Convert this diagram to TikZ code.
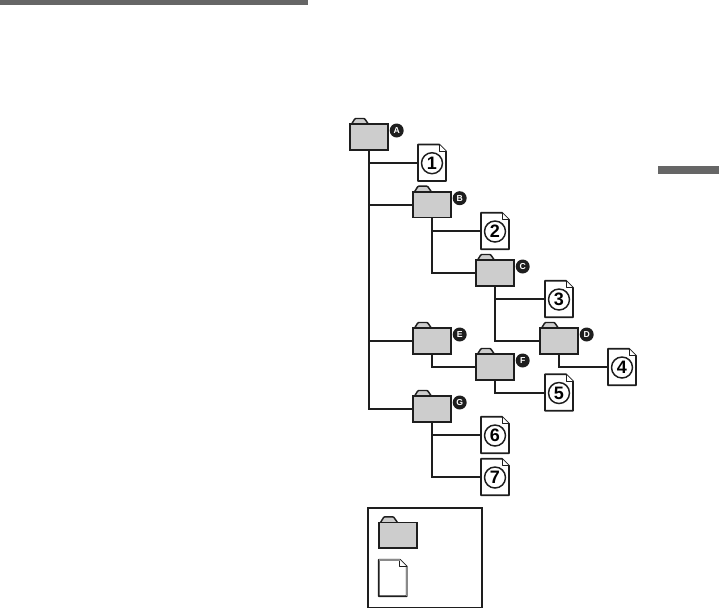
\documentclass[tikz,border=0pt]{standalone}
\usepackage{fontspec}
\setmainfont{Liberation Sans}
\definecolor{ink}{HTML}{1E1E1E}
\definecolor{folderfill}{HTML}{CDCDCD}
\definecolor{barcol}{HTML}{666666}
\definecolor{softedge}{HTML}{8A8A8A}
\newlength{\pxu}\setlength{\pxu}{0.75pt}
\tikzset{
  foldernode/.style={draw=ink,fill=folderfill,line width=1.4pt,minimum width=38\pxu,minimum height=25.5\pxu,inner sep=0pt,outer sep=0pt},
  filenode/.style={minimum width=28\pxu,minimum height=36.5\pxu,inner sep=0pt,outer sep=0pt},
  fileline/.style={draw=ink,fill=white,line width=1.3pt,line join=round},
  tabline/.style={draw=ink,fill=folderfill,line width=1.1pt,line join=round,rounded corners=0.6pt},
  badge/.style={circle,fill=ink,text=white,inner sep=0pt,minimum size=14\pxu,font=\fontsize{6.5}{7}\selectfont\bfseries},
  numring/.style={circle,draw=ink,line width=1.1pt,fill=white,inner sep=0pt,minimum size=21\pxu,font=\fontsize{13.5}{14}\selectfont\bfseries},
  wire/.style={draw=ink,line width=1.5pt},
  thinwire/.style={draw=ink,line width=0.85pt},
  bar/.style={fill=barcol,draw=none,inner sep=0pt,outer sep=0pt}
}
% folder: name, x, y
\newcommand{\myfolder}[3]{%
  \draw[tabline] (#2-18,#3-12) -- (#2-14,#3-18.5) -- (#2-4.5,#3-18.5) -- (#2,#3-12) -- cycle;
  \node[foldernode] (#1) at (#2,#3) {};
}
% file: name, x, y
\newcommand{\myfile}[3]{%
  \node[filenode] (#1) at (#2,#3) {};
  \draw[fileline] (#1.north west) -- ([xshift=-7\pxu]#1.north east) -- ([yshift=-7\pxu]#1.north east) -- (#1.south east) -- (#1.south west) -- cycle;
  \draw[draw=ink,fill=white,line width=0.6pt,line join=round] ([xshift=-7\pxu]#1.north east) -- ([xshift=-7\pxu,yshift=-7\pxu]#1.north east) -- ([yshift=-7\pxu]#1.north east);
}
\newcommand{\mybadge}[2]{\node[badge] (b#1) at ([xshift=8.7\pxu,yshift=6.5\pxu]#1.east) {#2};}
\newcommand{\mynum}[2]{\node[numring] (n#1) at ([yshift=-0.5\pxu]#1.center) {#2};}
\begin{document}
\begin{tikzpicture}[x=0.75pt,y=-0.75pt]
\useasboundingbox (0,0) rectangle (719,608);
\node[bar,minimum width=308\pxu,minimum height=5\pxu,anchor=north west] (topbar) at (0,0) {};
\node[bar,minimum width=61\pxu,minimum height=8.5\pxu,anchor=north west] (sidebar) at (658,165.7) {};

\myfolder{A}{369}{137}
\myfolder{B}{432}{204.7}
\myfolder{C}{495}{273}
\myfolder{D}{559}{341}
\myfolder{E}{432}{341}
\myfolder{F}{495}{367}
\myfolder{G}{432}{409}

\myfile{f1}{432}{162.7}
\myfile{f2}{495}{231}
\myfile{f3}{559}{299}
\myfile{f4}{622}{367}
\myfile{f5}{559}{392.5}
\myfile{f6}{495}{435}
\myfile{f7}{495}{477}

\mynum{f1}{1}\mynum{f2}{2}\mynum{f3}{3}\mynum{f4}{4}\mynum{f5}{5}\mynum{f6}{6}\mynum{f7}{7}
\mybadge{A}{A}\mybadge{B}{B}\mybadge{C}{C}\mybadge{D}{D}\mybadge{E}{E}\mybadge{F}{F}\mybadge{G}{G}

\path[wire] (A.south) |- (G.west);
\path[wire] (A.south) |- (f1.west);
\path[wire] (A.south) |- (B.west);
\path[wire] (A.south) |- (E.west);
\path[wire] (B.south) |- (f2.west);
\path[wire] (B.south) |- (C.west);
\path[wire] (C.south) |- (f3.west);
\path[wire] (C.south) |- (D.west);
\path[thinwire] (D.south) |- (f4.west);
\path[wire] (E.south) |- (F.west);
\path[wire] (F.south) |- (f5.west);
\path[wire] (G.south) |- (f6.west);
\path[wire] (G.south) |- (f7.west);

\node[draw=ink,line width=1.4pt,minimum width=113.5\pxu,minimum height=100\pxu,inner sep=0pt,anchor=north west] (legend) at (367.3,506.7) {};
\myfolder{Lf}{398}{535.3}
\myfile{Lp}{392.8}{578}
\draw[softedge,line width=1.2pt] ([xshift=-7\pxu]Lp.north east) -- (Lp.north west);
\draw[softedge,line width=1.2pt] ([yshift=-7\pxu]Lp.north east) -- (Lp.south east);
\end{tikzpicture}
\end{document}
